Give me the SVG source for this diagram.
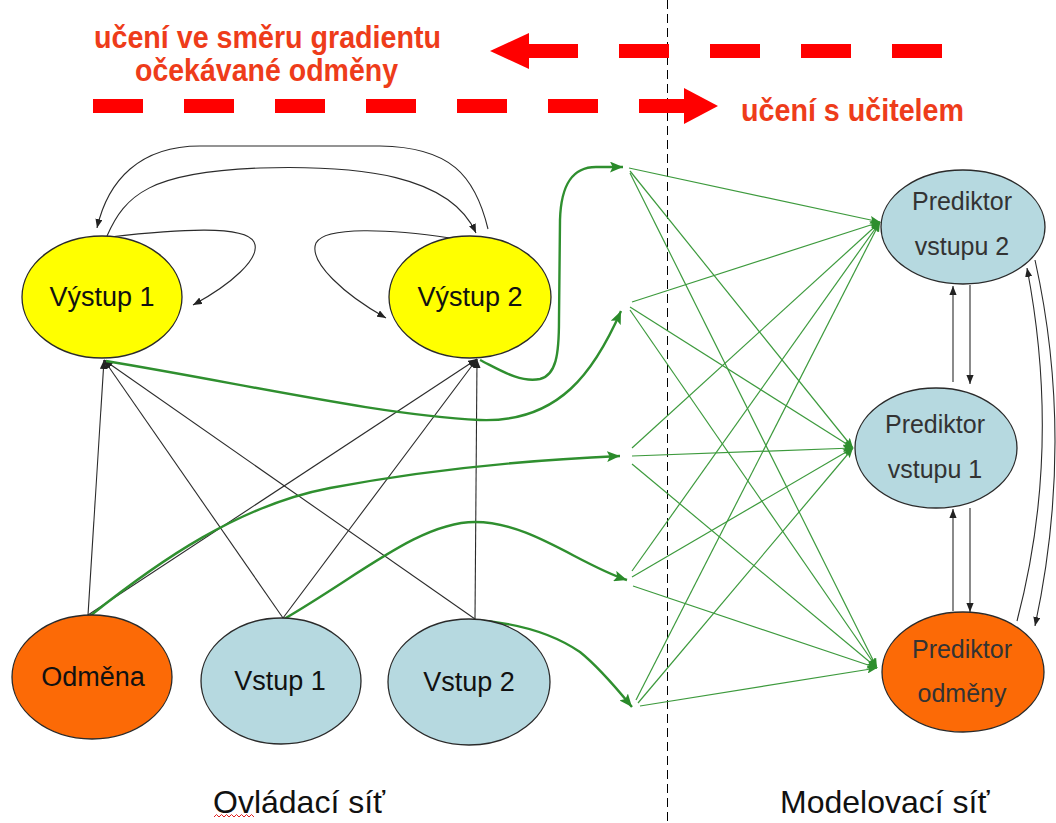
<svg xmlns="http://www.w3.org/2000/svg" width="1056" height="823" viewBox="0 0 1056 823">
  <style>
    .node { stroke: #2a2a2a; stroke-width: 1.3; }
    .yellow { fill: #ffff00; }
    .orange { fill: #fc6a06; }
    .blue { fill: #b6d9e0; }
    .lbl { font-family: "Liberation Sans", Arial, sans-serif; font-size: 27px; fill: #111; text-anchor: middle; }
    .plbl { font-family: "Liberation Sans", Arial, sans-serif; font-size: 25px; fill: #333; text-anchor: middle; }
    .title { font-family: "Liberation Sans", Arial, sans-serif; font-size: 32px; fill: #111; }
    .red { font-family: "Liberation Sans Narrow", "Liberation Sans", Arial, sans-serif; font-weight: bold; font-size: 32px; fill: #ee3c1a; }
    .blk { fill: none; stroke: #2b2b2b; stroke-width: 1.1; }
    .gthick { fill: none; stroke: #2f8f2f; stroke-width: 2.4; }
    .gthin { fill: none; stroke: #3d9a3d; stroke-width: 1.2; }
  </style>
  <defs>
    <marker id="ahBlack" viewBox="0 0 10 8" refX="10" refY="4" markerWidth="9" markerHeight="7.2" orient="auto" markerUnits="userSpaceOnUse">
      <path d="M0,0 L10,4 L0,8 z" fill="#222"/>
    </marker>
    <marker id="ahGreenBig" viewBox="0 0 12 10" refX="12" refY="5" markerWidth="13" markerHeight="11" orient="auto" markerUnits="userSpaceOnUse">
      <path d="M0,0 L12,5 L0,10 L2.5,5 z" fill="#2a8a2a"/>
    </marker>
    <marker id="ahGreen" viewBox="0 0 10 8" refX="10" refY="4" markerWidth="10" markerHeight="8" orient="auto" markerUnits="userSpaceOnUse">
      <path d="M0,0 L10,4 L0,8 L2,4 z" fill="#2e8e2e"/>
    </marker>
  </defs>

  <rect width="1056" height="823" fill="#ffffff"/>

  <!-- divider between the two networks -->
  <line x1="667.5" y1="0" x2="667.5" y2="823" stroke="#000" stroke-width="1" stroke-dasharray="9 5"/>

  <!-- learning direction arrows -->
  <g id="learning-arrows">
    <path d="M942,51 H529" stroke="#ff0000" stroke-width="14" stroke-dasharray="50 41" fill="none"/>
    <polygon points="529,33 490,51 529,69" fill="#ff0000"/>
    <path d="M93,106 H686" stroke="#ff0000" stroke-width="14" stroke-dasharray="50 41" fill="none"/>
    <polygon points="684,88 718,106 684,124" fill="#ff0000"/>
    <text class="red" x="94" y="48" textLength="347" lengthAdjust="spacingAndGlyphs">učení ve směru gradientu</text>
    <text class="red" x="135" y="81" textLength="263" lengthAdjust="spacingAndGlyphs">očekávané odměny</text>
    <text class="red" x="741" y="121" textLength="223" lengthAdjust="spacingAndGlyphs">učení s učitelem</text>
  </g>

  <!-- connectors -->
  <g id="connectors">
    <!-- control network: inputs to outputs -->
    <line class="blk" x1="88" y1="615" x2="104" y2="360" marker-end="url(#ahBlack)"/>
    <line class="blk" x1="283" y1="618" x2="104" y2="360" marker-end="url(#ahBlack)"/>
    <line class="blk" x1="475" y1="619" x2="104" y2="360" marker-end="url(#ahBlack)"/>
    <line class="blk" x1="88" y1="615" x2="477" y2="359" marker-end="url(#ahBlack)"/>
    <line class="blk" x1="283" y1="618" x2="477" y2="359" marker-end="url(#ahBlack)"/>
    <line class="blk" x1="475" y1="619" x2="477" y2="359" marker-end="url(#ahBlack)"/>

    <!-- recurrent links between outputs -->
    <path class="blk" d="M488,229 C475,175 450,147 380,146 L200,146 C140,146 108,180 97,228" marker-end="url(#ahBlack)"/>
    <path class="blk" d="M107,236 C125,195 150,172 260,168 C360,165 450,175 476,233" marker-end="url(#ahBlack)"/>
    <path class="blk" d="M110,237 C180,229 245,225 254,242 C262,258 230,285 193,305" marker-end="url(#ahBlack)"/>
    <path class="blk" d="M450,238 C390,229 325,226 316,243 C308,262 345,295 386,318" marker-end="url(#ahBlack)"/>

    <!-- control network to model inputs -->
    <path class="gthick" d="M480,360 C500,370 520,383 540,379 C556,375 559,355 559,320 L560,220 C561,185 572,167 596,167 L623,167" marker-end="url(#ahGreenBig)"/>
    <path class="gthick" d="M106,361 C250,385 380,415 480,420 C560,423 595,370 621,311" marker-end="url(#ahGreenBig)"/>
    <path class="gthick" d="M90,616 C160,560 240,505 330,488 C430,469 530,460 620,456" marker-end="url(#ahGreenBig)"/>
    <path class="gthick" d="M284,619 C360,575 420,522 475,522 C530,522 580,565 627,580" marker-end="url(#ahGreenBig)"/>
    <path class="gthick" d="M474,620 C520,623 555,635 580,652 C600,668 618,690 632,707" marker-end="url(#ahGreenBig)"/>

    <!-- model network: fully connected layer -->
    <line class="gthin" x1="629" y1="168" x2="880" y2="222" marker-end="url(#ahGreen)"/>
    <line class="gthin" x1="630" y1="171" x2="853" y2="448" marker-end="url(#ahGreen)"/>
    <line class="gthin" x1="630" y1="173" x2="877" y2="668" marker-end="url(#ahGreen)"/>
    <line class="gthin" x1="632" y1="302" x2="880" y2="222" marker-end="url(#ahGreen)"/>
    <line class="gthin" x1="630" y1="307" x2="853" y2="448" marker-end="url(#ahGreen)"/>
    <line class="gthin" x1="630" y1="310" x2="877" y2="668" marker-end="url(#ahGreen)"/>
    <line class="gthin" x1="632" y1="448" x2="880" y2="222" marker-end="url(#ahGreen)"/>
    <line class="gthin" x1="632" y1="456" x2="853" y2="448" marker-end="url(#ahGreen)"/>
    <line class="gthin" x1="632" y1="464" x2="877" y2="668" marker-end="url(#ahGreen)"/>
    <line class="gthin" x1="632" y1="571" x2="880" y2="222" marker-end="url(#ahGreen)"/>
    <line class="gthin" x1="632" y1="577" x2="853" y2="448" marker-end="url(#ahGreen)"/>
    <line class="gthin" x1="633" y1="586" x2="877" y2="668" marker-end="url(#ahGreen)"/>
    <line class="gthin" x1="636" y1="700" x2="880" y2="222" marker-end="url(#ahGreen)"/>
    <line class="gthin" x1="638" y1="703" x2="853" y2="448" marker-end="url(#ahGreen)"/>
    <line class="gthin" x1="640" y1="706" x2="877" y2="668" marker-end="url(#ahGreen)"/>

    <!-- predictor links -->
    <line class="blk" x1="953" y1="382" x2="953" y2="286" marker-end="url(#ahBlack)"/>
    <line class="blk" x1="970" y1="285" x2="970" y2="384" marker-end="url(#ahBlack)"/>
    <line class="blk" x1="953" y1="611" x2="953" y2="509" marker-end="url(#ahBlack)"/>
    <line class="blk" x1="970" y1="508" x2="970" y2="612" marker-end="url(#ahBlack)"/>
    <path class="blk" d="M1017,621 Q1062,450 1027,268" marker-end="url(#ahBlack)"/>
    <path class="blk" d="M1035,260 Q1075,440 1035,626" marker-end="url(#ahBlack)"/>
  </g>

  <!-- control network nodes -->
  <g id="vystup1">
    <ellipse class="node yellow" cx="102" cy="297" rx="80" ry="61"/>
    <text class="lbl" x="102" y="306">Výstup 1</text>
  </g>
  <g id="vystup2">
    <ellipse class="node yellow" cx="470" cy="297" rx="81" ry="61"/>
    <text class="lbl" x="470" y="306">Výstup 2</text>
  </g>
  <g id="odmena">
    <ellipse class="node orange" cx="92" cy="677" rx="80" ry="62"/>
    <text class="lbl" x="93" y="686">Odměna</text>
  </g>
  <g id="vstup1">
    <ellipse class="node blue" cx="281" cy="681" rx="80" ry="63"/>
    <text class="lbl" x="280" y="690">Vstup 1</text>
  </g>
  <g id="vstup2">
    <ellipse class="node blue" cx="469" cy="682" rx="81" ry="63"/>
    <text class="lbl" x="469" y="691">Vstup 2</text>
  </g>

  <!-- model network nodes -->
  <g id="prediktor-vstupu2">
    <ellipse class="node blue" cx="963" cy="227" rx="82" ry="57"/>
    <text class="plbl" x="962" y="210">Prediktor</text>
    <text class="plbl" x="962" y="255">vstupu 2</text>
  </g>
  <g id="prediktor-vstupu1">
    <ellipse class="node blue" cx="936" cy="448" rx="81" ry="60"/>
    <text class="plbl" x="935" y="433">Prediktor</text>
    <text class="plbl" x="935" y="478">vstupu 1</text>
  </g>
  <g id="prediktor-odmeny">
    <ellipse class="node orange" cx="963" cy="672" rx="81" ry="60"/>
    <text class="plbl" x="962" y="658">Prediktor</text>
    <text class="plbl" x="962" y="702">odměny</text>
  </g>

  <!-- section captions -->
  <g id="captions">
    <text class="title" x="213" y="813">Ovládací síť</text>
    <path d="M214,817 l2.5,-2.5 2.5,2.5 2.5,-2.5 2.5,2.5 2.5,-2.5 2.5,2.5 2.5,-2.5 2.5,2.5 2.5,-2.5 2.5,2.5 2.5,-2.5 2.5,2.5 2.5,-2.5 2.5,2.5 2.5,-2.5 2.5,2.5" fill="none" stroke="#e02020" stroke-width="1"/>
    <text class="title" x="780" y="813">Modelovací síť</text>
  </g>
</svg>
